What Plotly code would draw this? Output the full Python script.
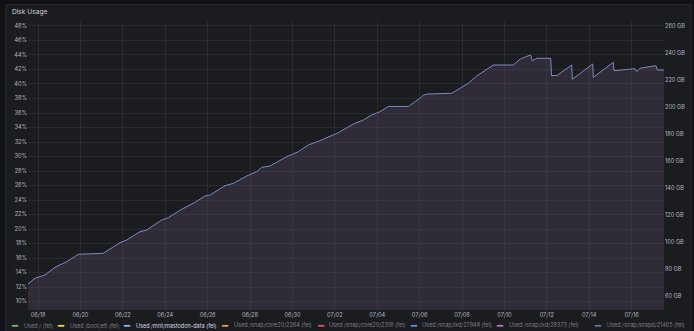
import plotly.graph_objects as go

# ---------------- data ----------------
times = [
    "2023-06-17 12:20", "2023-06-17 20:36", "2023-06-18 07:55", "2023-06-18 19:15",
    "2023-06-19 08:30", "2023-06-19 21:37", "2023-06-21 01:55", "2023-06-21 20:50",
    "2023-06-22 04:25", "2023-06-22 19:28", "2023-06-23 03:03", "2023-06-23 20:02",
    "2023-06-24 03:30", "2023-06-24 18:40", "2023-06-25 09:45", "2023-06-25 21:03",
    "2023-06-26 02:43", "2023-06-26 19:42", "2023-06-27 05:05", "2023-06-27 20:15",
    "2023-06-28 07:35", "2023-06-28 13:15", "2023-06-28 22:38", "2023-06-29 11:53",
    "2023-06-29 17:33", "2023-06-30 06:40", "2023-06-30 18:00", "2023-07-01 07:15",
    "2023-07-01 16:38", "2023-07-02 03:57", "2023-07-02 20:57", "2023-07-03 08:15",
    "2023-07-03 17:47", "2023-07-04 03:10", "2023-07-04 12:35", "2023-07-05 11:13",
    "2023-07-06 00:27", "2023-07-06 04:12", "2023-07-06 09:50", "2023-07-07 12:20",
    "2023-07-07 21:45", "2023-07-08 07:08", "2023-07-08 16:38", "2023-07-09 11:26",
    "2023-07-10 10:05", "2023-07-10 17:40", "2023-07-11 03:03", "2023-07-11 05:46",
    "2023-07-11 07:35", "2023-07-11 12:34", "2023-07-12 04:25", "2023-07-12 05:20",
    "2023-07-12 11:33", "2023-07-13 04:12", "2023-07-13 04:52", "2023-07-14 03:58",
    "2023-07-14 04:38", "2023-07-15 03:17", "2023-07-15 04:05", "2023-07-16 03:50",
    "2023-07-16 05:47", "2023-07-16 09:30", "2023-07-17 03:37", "2023-07-17 05:05",
    "2023-07-17 12:40",
]
used_pct = [
    12.41, 13.20, 13.66, 14.72, 15.49, 16.51, 16.65, 18.11,
    18.48, 19.63, 19.86, 21.24, 21.56, 22.72, 23.68, 24.55,
    24.69, 25.97, 26.30, 27.31, 27.90, 28.51, 28.69, 29.61,
    29.97, 30.66, 31.59, 32.18, 32.73, 33.28, 34.48, 35.03,
    35.72, 36.18, 36.90, 36.90, 38.03, 38.48, 38.62, 38.72,
    39.41, 40.10, 41.10, 42.62, 42.62, 43.41, 43.90, 43.96,
    43.21, 43.54, 43.54, 41.17, 41.17, 42.62, 40.65, 42.76,
    40.92, 42.99, 41.83, 42.11, 41.70, 42.17, 42.52, 41.93,
    41.93,
]

legend_names = [
    "Used / (fel)", "Used /boot/efi (fel)", "Used /mnt/mastodon-data (fel)",
    "Used /snap/core20/2264 (fel)", "Used /snap/core20/2318 (fel)",
    "Used /snap/lxd/27948 (fel)", "Used /snap/lxd/28373 (fel)",
    "Used /snap/snapd/21465 (fel)",
]
legend_colors = ["#73bf69", "#fade2a", "#8ab8ff", "#ff9830", "#f2495c",
                 "#5794f2", "#b877d9", "#7a69b0"]
active_series = "Used /mnt/mastodon-data (fel)"

pct_ticks = list(range(10, 50, 2))
pct_labels = [f"{v}%" for v in pct_ticks]
gb_ticks = list(range(60, 280, 20))
gb_labels = [f"{v} GB" for v in gb_ticks]

# ---------------- layout geometry (pixels) ----------------
W, H = 694, 331
L, R, T, B = 28, 30, 22, 21
PW, PH = W - L - R, H - T - B


def px(xp):
    return (xp - L) / PW


def py(yp):
    return (H - B - yp) / PH


FONT = "Inter"
TICK_COLOR = "#b4b5c0"
TICK_SIZE = 5.6

fig = go.Figure()
fig.add_trace(go.Scatter(
    x=times, y=used_pct, mode="lines", name=active_series,
    line=dict(color="#7d87c4", width=1), fill="tozeroy",
    fillcolor="rgba(82,72,94,0.38)", showlegend=False, hoverinfo="x+y",
))
# empty trace so that the right-hand (GB) axis gets its own subplot
fig.add_trace(go.Scatter(x=[], y=[], yaxis="y2", showlegend=False,
                         hoverinfo="skip"))

annotations = [dict(
    text="Disk Usage", xref="paper", yref="paper", x=px(10), y=py(12),
    xanchor="left", yanchor="middle", showarrow=False,
    font=dict(family=FONT, size=6.6, color="#d0d1dc"),
)]

swatch_x = [15, 61, 127, 225, 321, 414, 500, 598]
text_x = [22, 68, 134, 232, 327, 420, 507, 605]
leg_y = 325.5
for name, col, sx, tx in zip(legend_names, legend_colors, swatch_x, text_x):
    active = name == active_series
    annotations.append(dict(
        text="━", xref="paper", yref="paper", x=px(sx), y=py(leg_y),
        xanchor="center", yanchor="middle", showarrow=False,
        font=dict(family="DejaVu Sans", size=10, color=col),
    ))
    annotations.append(dict(
        text=name, xref="paper", yref="paper", x=px(tx), y=py(leg_y),
        xanchor="left", yanchor="middle", showarrow=False,
        font=dict(family=FONT, size=5.5,
                  color="#d8d9e3" if active else "#7c7d88"),
    ))

fig.update_layout(
    width=W, height=H,
    margin=dict(l=L, r=R, t=T, b=B, pad=0),
    paper_bgcolor="#111217",
    plot_bgcolor="rgba(0,0,0,0)",
    showlegend=False,
    font=dict(family=FONT, size=TICK_SIZE, color=TICK_COLOR),
    shapes=[dict(
        type="rect", xref="paper", yref="paper",
        x0=px(6), x1=px(691), y0=py(340), y1=py(4.5),
        fillcolor="#1b1c20", line=dict(color="#2a2b31", width=1), layer="below",
    )],
    annotations=annotations,
    xaxis=dict(
        type="date", range=["2023-06-17 12:40", "2023-07-17 12:40"],
        tick0="2023-06-18", dtick=2 * 86400000, tickformat="%m/%d",
        showgrid=True, gridcolor="#2a2b30", gridwidth=1,
        zeroline=False, showline=False, ticks="",
        tickfont=dict(family=FONT, size=TICK_SIZE, color=TICK_COLOR),
        fixedrange=True, automargin=False,
    ),
    yaxis=dict(
        range=[8.83, 48.55], tickmode="array", tickvals=pct_ticks,
        ticktext=pct_labels,
        showgrid=True, gridcolor="#2a2b30", gridwidth=1,
        zeroline=False, showline=False, ticks="",
        tickfont=dict(family=FONT, size=TICK_SIZE, color=TICK_COLOR),
        fixedrange=True, automargin=False,
    ),
    yaxis2=dict(
        overlaying="y", side="right", anchor="x",
        range=[49.63, 262.96], tickmode="array", tickvals=gb_ticks,
        ticktext=gb_labels,
        showgrid=False, zeroline=False, showline=False, ticks="",
        tickfont=dict(family=FONT, size=TICK_SIZE, color=TICK_COLOR),
        fixedrange=True, automargin=False,
    ),
)

fig.write_html("out.html", config={"displayModeBar": False})
